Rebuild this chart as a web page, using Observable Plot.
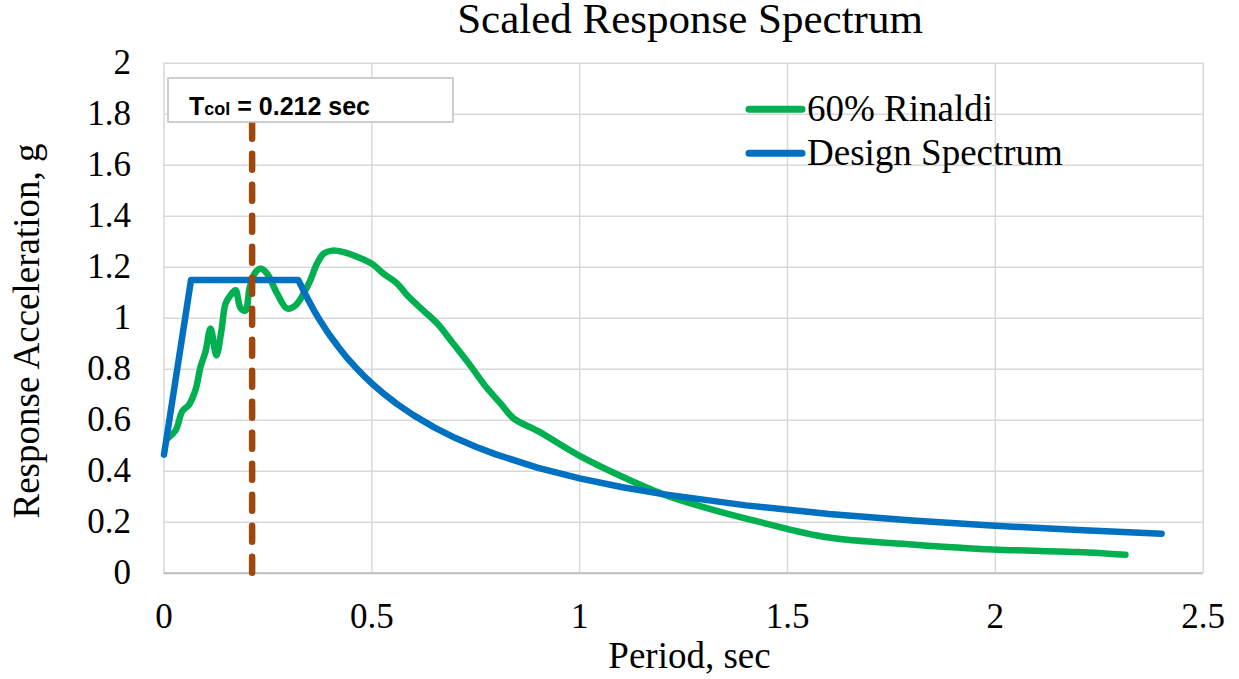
<!DOCTYPE html>
<html>
<head>
<meta charset="utf-8">
<script src="https://cdn.jsdelivr.net/npm/d3@7"></script>
<script src="https://cdn.jsdelivr.net/npm/@observablehq/plot@0.6"></script>
<style>
  html, body { margin: 0; padding: 0; background: #fff; }
  #chart svg { display: block; }
</style>
</head>
<body>
<div id="chart"></div>
<script>
// ---- data ----
const titleText = "Scaled Response Spectrum";
const xLabel = "Period, sec";
const yLabel = "Response Acceleration, g";
const seriesNames = ["60% Rinaldi", "Design Spectrum"];
const seriesColors = ["#00B050", "#0070C0"];
const xTicks = [0, 0.5, 1, 1.5, 2, 2.5];
const yTicks = [0, 0.2, 0.4, 0.6, 0.8, 1, 1.2, 1.4, 1.6, 1.8, 2];
const tCol = 0.212;

const rinaldiT  = [0.01, 0.028, 0.044, 0.06, 0.076, 0.088, 0.1, 0.112, 0.126, 0.138, 0.148, 0.16, 0.172, 0.184, 0.196, 0.206, 0.22, 0.232, 0.248, 0.272, 0.296, 0.316, 0.336, 0.352, 0.368, 0.384, 0.405, 0.432, 0.48, 0.5, 0.528, 0.561, 0.585, 0.624, 0.657, 0.696, 0.737, 0.777, 0.81, 0.841, 0.9, 1.0, 1.1, 1.2, 1.3, 1.435, 1.595, 1.8, 1.995, 2.2, 2.313];
const rinaldiSa = [0.53, 0.56, 0.635, 0.66, 0.72, 0.81, 0.87, 0.96, 0.854, 0.95, 1.057, 1.09, 1.11, 1.04, 1.03, 1.12, 1.18, 1.195, 1.175, 1.097, 1.038, 1.05, 1.097, 1.148, 1.214, 1.253, 1.265, 1.259, 1.23, 1.214, 1.175, 1.136, 1.09, 1.03, 0.98, 0.9, 0.814, 0.726, 0.665, 0.607, 0.557, 0.46, 0.38, 0.31, 0.258, 0.2, 0.141, 0.113, 0.093, 0.083, 0.072];

const designT  = [0, 0.065, 0.323, 0.33, 0.34, 0.35, 0.36, 0.37, 0.38, 0.39, 0.4, 0.42, 0.44, 0.46, 0.48, 0.5, 0.53, 0.56, 0.6, 0.65, 0.7, 0.75, 0.8, 0.9, 1.0, 1.1, 1.2, 1.4, 1.6, 1.8, 2.0, 2.2, 2.4];
const designSa = [0.465, 1.15, 1.15, 1.127, 1.094, 1.063, 1.033, 1.005, 0.979, 0.954, 0.93, 0.886, 0.845, 0.809, 0.775, 0.744, 0.702, 0.664, 0.62, 0.572, 0.531, 0.496, 0.465, 0.413, 0.372, 0.338, 0.31, 0.266, 0.2325, 0.207, 0.186, 0.169, 0.155];

const rinaldi = rinaldiT.map((t, i) => ({T: t, Sa: rinaldiSa[i]}));
const design = designT.map((t, i) => ({T: t, Sa: designSa[i]}));

const serif = "'Liberation Serif','Times New Roman',Times,serif";
const sans = "'Liberation Sans',Arial,sans-serif";

const W = 1239, H = 679;
const chart = Plot.plot({
  width: W, height: H,
  marginLeft: 163.5, marginRight: 36.3, marginTop: 62.7, marginBottom: 106.3,
  x: {domain: [0, 2.5]},
  y: {domain: [0, 2]},
  style: {fontFamily: serif, fontSize: "35px", color: "#000", background: "#fff", overflow: "visible"},
  marks: [
    Plot.gridX(xTicks, {stroke: "#d9d9d9", strokeOpacity: 1, strokeWidth: 1.5}),
    Plot.gridY(yTicks, {stroke: "#d9d9d9", strokeOpacity: 1, strokeWidth: 1.5}),
    Plot.ruleY([0], {stroke: "#bfbfbf", strokeWidth: 2}),
    Plot.axisX(xTicks, {tickSize: 0, tickPadding: 30, label: null, tickFormat: d => String(d)}),
    Plot.axisY(yTicks, {tickSize: 0, tickPadding: 33, label: null, tickFormat: d => String(d)}),
    Plot.line(rinaldi, {x: "T", y: "Sa", stroke: seriesColors[0], strokeWidth: 6.5, curve: "catmull-rom", strokeLinecap: "round", strokeLinejoin: "round"}),
    Plot.line(design, {x: "T", y: "Sa", stroke: seriesColors[1], strokeWidth: 6.5, curve: "linear", strokeLinecap: "round", strokeLinejoin: "round"}),
    Plot.ruleX([tCol], {y1: 0, y2: 1.8, stroke: "#9E480E", strokeWidth: 6.5, strokeDasharray: "16,15", strokeLinecap: "round"})
  ]
});

const svg = d3.select(chart);

// Title
svg.append("text").attr("x", 690).attr("y", 33).attr("text-anchor", "middle")
  .style("font-family", serif).style("font-size", "43px").attr("fill", "#000").text(titleText);

// Axis titles
svg.append("text").attr("x", 689.5).attr("y", 668).attr("text-anchor", "middle")
  .style("font-family", serif).style("font-size", "37px").attr("fill", "#000").text(xLabel);
svg.append("text").attr("transform", "translate(39,331) rotate(-90)").attr("text-anchor", "middle")
  .style("font-family", serif).style("font-size", "37px").attr("fill", "#000").text(yLabel);

// Legend
const legY = [109.3, 153.3];
seriesNames.forEach((name, i) => {
  svg.append("line").attr("x1", 749).attr("x2", 802).attr("y1", legY[i]).attr("y2", legY[i])
    .attr("stroke", seriesColors[i]).attr("stroke-width", 7).attr("stroke-linecap", "round");
  svg.append("text").attr("x", 807).attr("y", legY[i] + 11.7).attr("text-anchor", "start")
    .style("font-family", serif).style("font-size", "37px").attr("fill", "#000").text(name);
});

// Tcol annotation box
svg.append("rect").attr("x", 168).attr("y", 78).attr("width", 285).attr("height", 44)
  .attr("fill", "#fff").attr("stroke", "#bfbfbf").attr("stroke-width", 1.5);
const t = svg.append("text").attr("x", 189).attr("y", 115).attr("text-anchor", "start")
  .style("font-family", sans).style("font-weight", "bold").style("font-size", "25px").attr("fill", "#000");
t.append("tspan").text("T");
t.append("tspan").style("font-size", "18px").text("col");
t.append("tspan").text(` = ${tCol} sec`);

document.getElementById("chart").appendChild(chart);
</script>
</body>
</html>
